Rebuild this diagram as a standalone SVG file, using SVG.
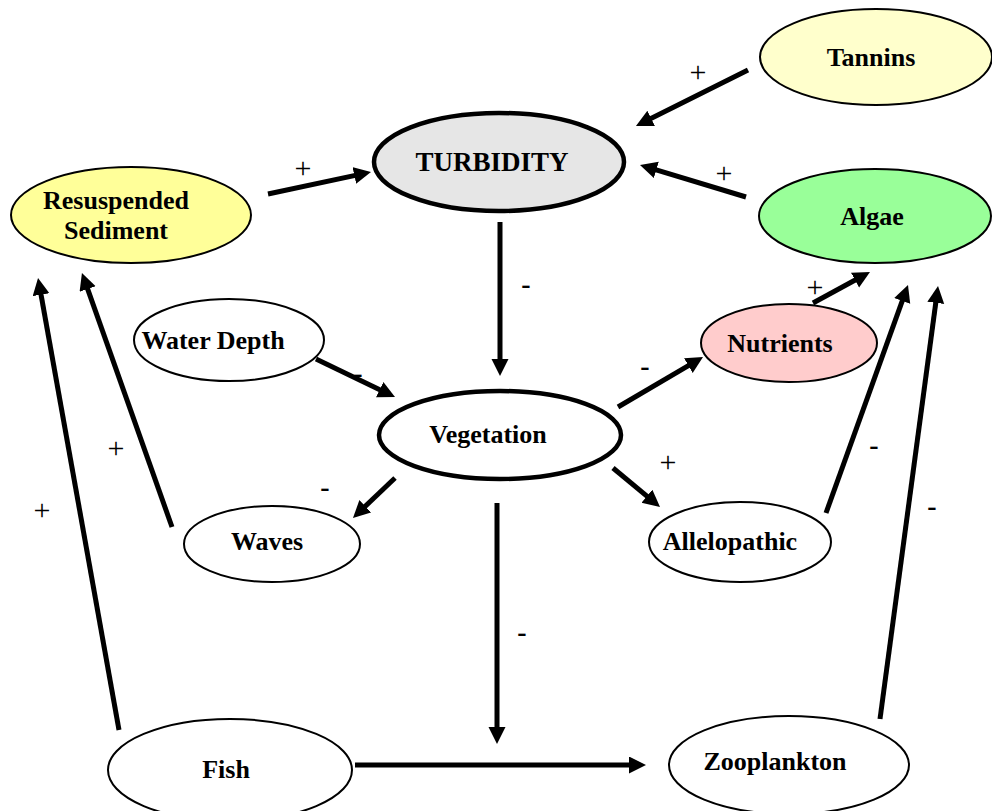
<svg xmlns="http://www.w3.org/2000/svg" width="992" height="811" viewBox="0 0 992 811">
<style>
.n{stroke:#000;stroke-width:2}
.k{stroke:#000;stroke-width:4.5}
.t{font-family:"Liberation Serif","Times New Roman",serif;font-weight:bold;font-size:26px;text-anchor:middle;fill:#000}
.c line{stroke:#000;stroke-width:5;marker-end:url(#ah)}
.p{font-family:"Liberation Serif","Times New Roman",serif;font-size:30px;text-anchor:middle;fill:#000}
.m{font-family:"Liberation Serif","Times New Roman",serif;font-size:28px;font-weight:bold;text-anchor:middle;fill:#000}
</style>
<defs>
<marker id="ah" markerUnits="userSpaceOnUse" markerWidth="18" markerHeight="18" refX="7" refY="8.5" orient="auto">
<path d="M0,0 L17,8.5 L0,17 Z" fill="#000"/>
</marker>
</defs>
<rect width="992" height="811" fill="#fff"/>
<g id="tannins"><ellipse class="n" cx="876" cy="57" rx="116" ry="48" fill="#FFFFCC"/><text class="t" x="871" y="66">Tannins</text></g>
<g id="turbidity"><ellipse class="k" cx="499" cy="162" rx="125" ry="49" fill="#E6E6E6"/><text class="t" x="492" y="171" style="font-size:27px">TURBIDITY</text></g>
<g id="algae"><ellipse class="n" cx="875" cy="216" rx="116" ry="47" fill="#99FF99"/><text class="t" x="872" y="225">Algae</text></g>
<g id="resuspended"><ellipse class="n" cx="131" cy="215" rx="120" ry="48" fill="#FFFF99"/><text class="t" x="116" y="209">Resuspended</text><text class="t" x="116" y="239">Sediment</text></g>
<g id="waterdepth"><ellipse class="n" cx="229" cy="340" rx="95" ry="41" fill="#fff"/><text class="t" x="213" y="349">Water Depth</text></g>
<g id="nutrients"><ellipse class="n" cx="789" cy="343" rx="88" ry="39" fill="#FFCCCC"/><text class="t" x="780" y="352">Nutrients</text></g>
<g id="vegetation"><ellipse class="k" cx="500" cy="435" rx="121" ry="44" fill="#fff"/><text class="t" x="488" y="443">Vegetation</text></g>
<g id="waves"><ellipse class="n" cx="272" cy="544" rx="88" ry="38" fill="#fff"/><text class="t" x="267" y="550">Waves</text></g>
<g id="allelopathic"><ellipse class="n" cx="740" cy="542" rx="91" ry="40" fill="#fff"/><text class="t" x="730" y="550">Allelopathic</text></g>
<g id="fish"><ellipse class="n" cx="230" cy="770" rx="122" ry="51" fill="#fff"/><text class="t" x="226" y="778">Fish</text></g>
<g id="zooplankton"><ellipse class="n" cx="789" cy="765" rx="120" ry="49" fill="#fff"/><text class="t" x="775" y="770">Zooplankton</text></g>
<g id="connectors" class="c">
<line x1="748" y1="70" x2="644.9" y2="121.5"/>
<line x1="746" y1="197" x2="649.6" y2="167.9"/>
<line x1="268" y1="194" x2="361.2" y2="174.1"/>
<line x1="500" y1="222" x2="500" y2="366"/>
<line x1="316" y1="359" x2="386" y2="392.7"/>
<line x1="618" y1="407" x2="694.4" y2="362.1"/>
<line x1="813" y1="303" x2="861.2" y2="276.8"/>
<line x1="613" y1="468" x2="652.3" y2="500.6"/>
<line x1="826" y1="513" x2="904.6" y2="294.4"/>
<line x1="880" y1="719" x2="936.7" y2="295.9"/>
<line x1="395" y1="478" x2="360.2" y2="511.1"/>
<line x1="172" y1="527" x2="85.3" y2="282.4"/>
<line x1="119" y1="730" x2="39.8" y2="287.8"/>
<line x1="497" y1="503" x2="497" y2="734"/>
<line x1="355" y1="765" x2="636" y2="765"/>
</g>
<g id="labels">
<text class="p" x="698" y="82">+</text>
<text class="p" x="724" y="183">+</text>
<text class="p" x="303" y="178">+</text>
<text class="m" x="526" y="293">-</text>
<text class="m" x="358" y="382">-</text>
<text class="m" x="645" y="375">-</text>
<text class="p" x="815" y="297">+</text>
<text class="p" x="668" y="472">+</text>
<text class="m" x="874" y="454">-</text>
<text class="m" x="932" y="515">-</text>
<text class="m" x="325" y="496">-</text>
<text class="p" x="116" y="458">+</text>
<text class="p" x="42" y="520">+</text>
<text class="m" x="522" y="641">-</text>
</g>
</svg>
